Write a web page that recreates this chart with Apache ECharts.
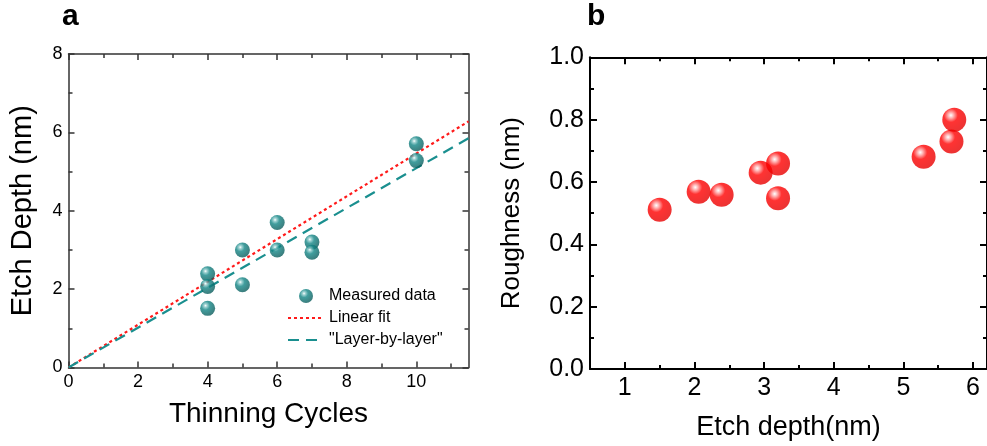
<!DOCTYPE html>
<html>
<head>
<meta charset="utf-8">
<script src="https://cdn.jsdelivr.net/npm/echarts@6/dist/echarts.min.js"></script>
<style>html,body{margin:0;padding:0;background:#fff;}#c{width:987px;height:446px;}</style>
</head>
<body>
<div id="c"></div>
<script>
// Panel a data
const cyclesX = [4, 4, 4, 5, 5, 6, 6, 7, 7, 10, 10];
const etchY = [2.39, 2.07, 1.51, 3.0, 2.11, 3.70, 3.0, 3.20, 2.94, 5.71, 5.28];
const fitX = [0, 11.5];
const linearFitY = [0, 6.28];
const layerY = [0, 5.85];
const aXTicks = [0, 2, 4, 6, 8, 10];
const aXMinor = [1, 3, 5, 7, 9, 11];
const aYTicks = [0, 2, 4, 6, 8];
const aYMinor = [1, 3, 5, 7];
// Panel b data
const depthX = [1.50, 2.06, 2.39, 2.95, 3.20, 3.20, 5.29, 5.69, 5.73];
const roughY = [0.511, 0.569, 0.559, 0.630, 0.659, 0.548, 0.681, 0.730, 0.800];
const bXTicks = [1, 2, 3, 4, 5, 6];
const bXMinor = [0.5, 1.5, 2.5, 3.5, 4.5, 5.5];
const bYTicks = [0, 0.2, 0.4, 0.6, 0.8, 1.0];
const bYMinor = [0.1, 0.3, 0.5, 0.7, 0.9];

const FONT = 'Liberation Sans, Arial, sans-serif';
const chart = echarts.init(document.getElementById('c'), null, {renderer: 'canvas'});

function sphere(base, edge, hi) {
  return new echarts.graphic.RadialGradient(0.36, 0.32, 0.72, [
    {offset: 0, color: '#ffffff'},
    {offset: 0.14, color: hi},
    {offset: 0.4, color: base},
    {offset: 1, color: edge}
  ]);
}

function mkX(grid, pos, min, max, ticks, len, showLine, labels, color, width, fontSize, margin, name, nameGap, nameSize) {
  return {
    type: 'value', gridIndex: grid, position: pos, min: min, max: max,
    splitLine: {show: false},
    axisLine: {show: showLine, onZero: false, lineStyle: {color: color, width: width}},
    axisTick: {show: true, inside: true, length: len, customValues: ticks, lineStyle: {color: color, width: width}},
    axisLabel: labels ? {show: true, customValues: labels, margin: margin, color: '#000', fontSize: fontSize, fontFamily: FONT} : {show: false},
    name: name || '', nameLocation: 'middle', nameGap: nameGap || 0,
    nameTextStyle: {color: '#000', fontSize: nameSize || 12, fontFamily: FONT}
  };
}

const xAxis = [
  mkX(0, 'bottom', 0, 11.5, aXTicks, 6, true, aXTicks, '#333', 1.5, 18, 6, 'Thinning Cycles', 33, 28),
  mkX(0, 'bottom', 0, 11.5, aXMinor, 4, false, null, '#333', 1.5),
  mkX(0, 'top', 0, 11.5, aXTicks, 6, true, null, '#333', 1.5),
  mkX(0, 'top', 0, 11.5, aXMinor, 4, false, null, '#333', 1.5),
  mkX(1, 'bottom', 0.5, 6.2, bXTicks, 7, true, bXTicks, '#000', 2, 25, 7, 'Etch depth(nm)', 45, 27),
  mkX(1, 'bottom', 0.5, 6.2, bXMinor, 4, false, null, '#000', 2),
  mkX(1, 'top', 0.5, 6.2, bXTicks, 7, true, null, '#000', 2),
  mkX(1, 'top', 0.5, 6.2, bXMinor, 4, false, null, '#000', 2)
];
const yAxis = [
  mkX(0, 'left', 0, 8, aYTicks, 6, true, aYTicks, '#333', 1.5, 18, 6, 'Etch Depth (nm)', 31, 29),
  mkX(0, 'left', 0, 8, aYMinor, 4, false, null, '#333', 1.5),
  mkX(0, 'right', 0, 8, aYTicks, 6, true, null, '#333', 1.5),
  mkX(0, 'right', 0, 8, aYMinor, 4, false, null, '#333', 1.5),
  mkX(1, 'left', 0, 1.0, bYTicks, 7, true, bYTicks, '#000', 2, 25, 6, 'Roughness (nm)', 65, 26),
  mkX(1, 'left', 0, 1.0, bYMinor, 4, false, null, '#000', 2),
  mkX(1, 'right', 0, 1.0, bYTicks, 7, true, null, '#000', 2),
  mkX(1, 'right', 0, 1.0, bYMinor, 4, false, null, '#000', 2)
];
yAxis[4].axisLabel.formatter = v => v.toFixed(1);

chart.setOption({
  animation: false,
  backgroundColor: '#fff',
  textStyle: {fontFamily: FONT},
  title: [
    {text: 'a', left: 62, top: 2, padding: 0, textStyle: {fontSize: 30, fontWeight: 'bold', color: '#000', fontFamily: FONT}},
    {text: 'b', left: 587, top: 2, padding: 0, textStyle: {fontSize: 30, fontWeight: 'bold', color: '#000', fontFamily: FONT}}
  ],
  grid: [
    {left: 68.5, top: 54, width: 400, height: 313.5, containLabel: false},
    {left: 590, top: 57.3, width: 399, height: 313.4, containLabel: false}
  ],
  legend: {
    orient: 'vertical', left: 287, top: 288, padding: 0,
    itemWidth: 36, itemHeight: 14, itemGap: 6,
    textStyle: {fontSize: 16, color: '#000', fontFamily: FONT},
    data: [
      'Measured data',
      {name: 'Linear fit', itemStyle: {opacity: 0}},
      {name: '"Layer-by-layer"', itemStyle: {opacity: 0}}
    ]
  },
  xAxis: xAxis,
  yAxis: yAxis,
  series: [
    {
      name: 'Linear fit', type: 'line', xAxisIndex: 0, yAxisIndex: 0,
      data: fitX.map((x, i) => [x, linearFitY[i]]), symbol: 'none', showSymbol: false,
      lineStyle: {color: '#ff1a1a', width: 2.2, type: [3, 3]}, itemStyle: {color: '#ff1a1a'}, z: 3
    },
    {
      name: '"Layer-by-layer"', type: 'line', xAxisIndex: 0, yAxisIndex: 0,
      data: fitX.map((x, i) => [x, layerY[i]]), symbol: 'none', showSymbol: false,
      lineStyle: {color: '#1a8f8f', width: 2.2, type: [11, 7]}, itemStyle: {color: '#1a8f8f'}, z: 3
    },
    {
      name: 'Measured data', type: 'scatter', xAxisIndex: 0, yAxisIndex: 0,
      data: cyclesX.map((x, i) => [x, etchY[i]]), symbol: 'circle', symbolSize: 15,
      itemStyle: {color: sphere('#128585', '#0a5a5a', '#8cc9c9')}, z: 4
    },
    {
      name: 'Roughness', type: 'scatter', xAxisIndex: 4, yAxisIndex: 4,
      data: depthX.map((x, i) => [x, roughY[i]]), symbol: 'circle', symbolSize: 24,
      itemStyle: {color: sphere('#ff0000', '#e60000', '#ffaaaa')}, z: 4
    }
  ]
});
</script>
</body>
</html>
